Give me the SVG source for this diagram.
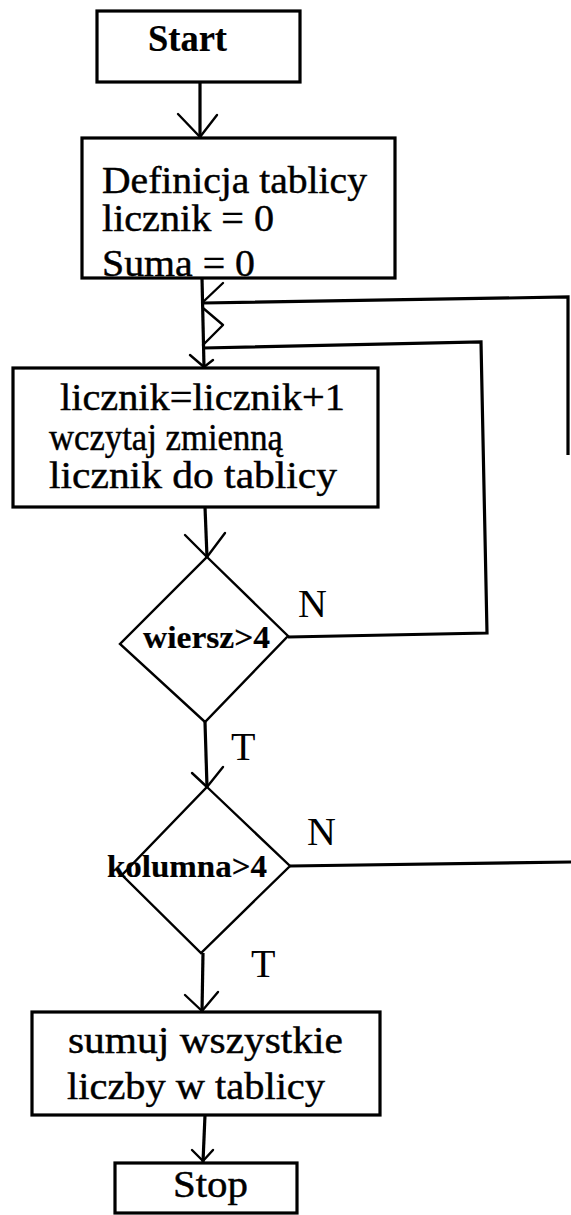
<svg xmlns="http://www.w3.org/2000/svg" width="571" height="1215" viewBox="0 0 571 1215">
  <style>
    .box { fill: #fff; stroke: #000; stroke-width: 3.2; }
    .dia { fill: #fff; stroke: #000; stroke-width: 2.4; }
    .ln { fill: none; stroke: #000; stroke-width: 3.2; stroke-linejoin: miter; }
    .hd { fill: none; stroke: #000; stroke-width: 2.4; stroke-linecap: round; stroke-linejoin: round; }
    text { font-family: "Liberation Serif", serif; fill: #000; }
    .t { font-size: 38px; stroke: #000; stroke-width: 0.45; }
    .b { font-size: 37px; font-weight: bold; stroke-width: 0.2; }
    .c { font-size: 32px; font-weight: bold; stroke-width: 0.2; }
    .lbl { font-size: 40px; }
  </style>

  <!-- connectors -->
  <g id="connectors">
    <!-- Start -> Definicja -->
    <line class="ln" x1="200" y1="82" x2="200" y2="137"/>
    <polyline class="hd" points="178,114 200,137 217,115"/>
    <!-- Definicja -> licznik box, with the two loop joins -->
    <line class="ln" x1="202" y1="278" x2="204" y2="367"/>
    <polyline class="hd" points="223,283 203,302"/>
    <polyline class="hd" points="203,308 223,325 203,345"/>
    <polyline class="hd" points="190,355 204,367 213,360"/>
    <!-- outer loop (kolumna N) -->
    <polyline class="ln" points="568,455 568,297 203,303"/>
    <!-- inner loop (wiersz N) -->
    <polyline class="ln" points="288,637 487,633 481,342 203,348"/>
    <!-- licznik box -> wiersz -->
    <line class="ln" x1="205" y1="507" x2="207" y2="557"/>
    <polyline class="hd" points="185,535 207,557 225,533"/>
    <!-- wiersz T -> kolumna -->
    <line class="ln" x1="205" y1="722" x2="207" y2="787"/>
    <polyline class="hd" points="192,773 207,787 223,767"/>
    <!-- kolumna N -->
    <line class="ln" x1="290" y1="866" x2="571" y2="862"/>
    <!-- kolumna T -> sumuj -->
    <line class="ln" x1="203" y1="953" x2="202" y2="1012"/>
    <polyline class="hd" points="185,995 202,1011 218,992"/>
    <!-- sumuj -> Stop -->
    <line class="ln" x1="205" y1="1115" x2="203" y2="1162"/>
    <polyline class="hd" points="192,1150 203,1161 213,1150"/>
    <!-- branch labels -->
    <text class="lbl" x="298" y="617">N</text>
    <text class="lbl" x="231" y="760" font-size="38">T</text>
    <text class="lbl" x="307" y="845">N</text>
    <text class="lbl" x="251" y="977" font-size="38">T</text>
  </g>

  <g id="start">
    <rect class="box" x="97" y="11" width="203" height="71"/>
    <text class="t b" x="148" y="51" textLength="79" lengthAdjust="spacingAndGlyphs">Start</text>
  </g>

  <g id="init">
    <rect class="box" x="82" y="138" width="313" height="140"/>
    <text class="t" x="102" y="193" textLength="265" lengthAdjust="spacingAndGlyphs">Definicja tablicy</text>
    <text class="t" x="102" y="231" textLength="172" lengthAdjust="spacingAndGlyphs">licznik = 0</text>
    <text class="t" x="102" y="276" textLength="153" lengthAdjust="spacingAndGlyphs">Suma = 0</text>
  </g>

  <g id="read">
    <rect class="box" x="13" y="368" width="365" height="139"/>
    <text class="t" x="60" y="410" textLength="285" lengthAdjust="spacingAndGlyphs">licznik=licznik+1</text>
    <text class="t" x="49" y="450" textLength="234" lengthAdjust="spacingAndGlyphs">wczytaj zmienną</text>
    <text class="t" x="49" y="488" textLength="288" lengthAdjust="spacingAndGlyphs">licznik do tablicy</text>
  </g>

  <g id="row-check">
    <polygon class="dia" points="207,557 288,636 205,722 120,644"/>
    <text class="t c" x="143" y="648" textLength="127" lengthAdjust="spacingAndGlyphs">wiersz&gt;4</text>
  </g>

  <g id="col-check">
    <polygon class="dia" points="207,787 290,866 201,953 122,875"/>
    <text class="t c" x="107" y="877" textLength="160" lengthAdjust="spacingAndGlyphs">kolumna&gt;4</text>
  </g>

  <g id="sum">
    <rect class="box" x="32" y="1012" width="348" height="103"/>
    <text class="t" x="68" y="1053" textLength="275" lengthAdjust="spacingAndGlyphs">sumuj wszystkie</text>
    <text class="t" x="67" y="1099" textLength="258" lengthAdjust="spacingAndGlyphs">liczby w tablicy</text>
  </g>

  <g id="stop">
    <rect class="box" x="115" y="1163" width="182" height="50"/>
    <text class="t" x="173" y="1197" textLength="75" lengthAdjust="spacingAndGlyphs" stroke-width="0.2">Stop</text>
  </g>
</svg>
